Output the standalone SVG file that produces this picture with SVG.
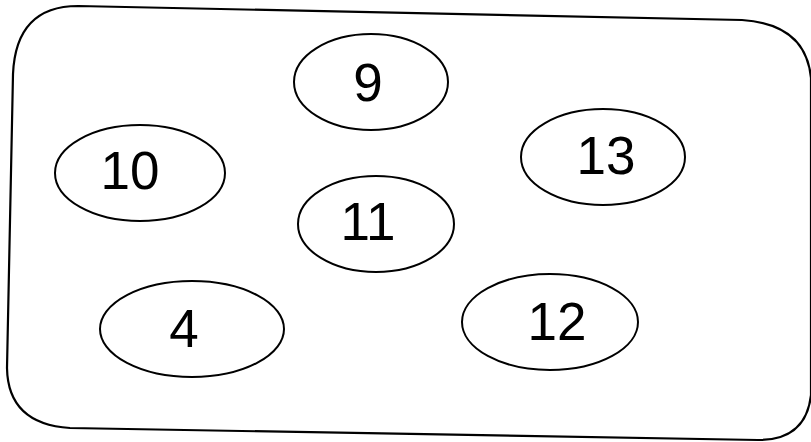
<svg xmlns="http://www.w3.org/2000/svg" width="811" height="442" viewBox="0 0 811 442">
<style>
.frame{fill:none;stroke:#000;stroke-width:2.2}
.node ellipse{fill:none;stroke:#000;stroke-width:2}
.node text{font-family:"Liberation Sans",Arial,sans-serif;font-size:53px;fill:#000;text-anchor:middle}
</style>
<rect width="811" height="442" fill="#fff"/>
<path id="frame" class="frame" d="M 78,6 L 742,20 Q 806,24 811,78 L 811,395 Q 806,440 758,440 L 70,428 Q 8,424 7,368 L 13,74 Q 16,6 78,6 Z"/>
<g id="connectors"></g>
<g id="n9" class="node"><ellipse cx="371" cy="82" rx="77" ry="48"/><text x="368" y="101">9</text></g>
<g id="n10" class="node"><ellipse cx="140" cy="173" rx="85" ry="48"/><text x="130" y="189">10</text></g>
<g id="n13" class="node"><ellipse cx="603" cy="157" rx="82" ry="48"/><text x="606" y="174">13</text></g>
<g id="n11" class="node"><ellipse cx="376" cy="224" rx="78" ry="48"/><text x="368" y="240">11</text></g>
<g id="n4" class="node"><ellipse cx="192" cy="329" rx="92" ry="48"/><text x="184" y="347">4</text></g>
<g id="n12" class="node"><ellipse cx="550" cy="322" rx="88" ry="48"/><text x="557" y="340">12</text></g>
</svg>
